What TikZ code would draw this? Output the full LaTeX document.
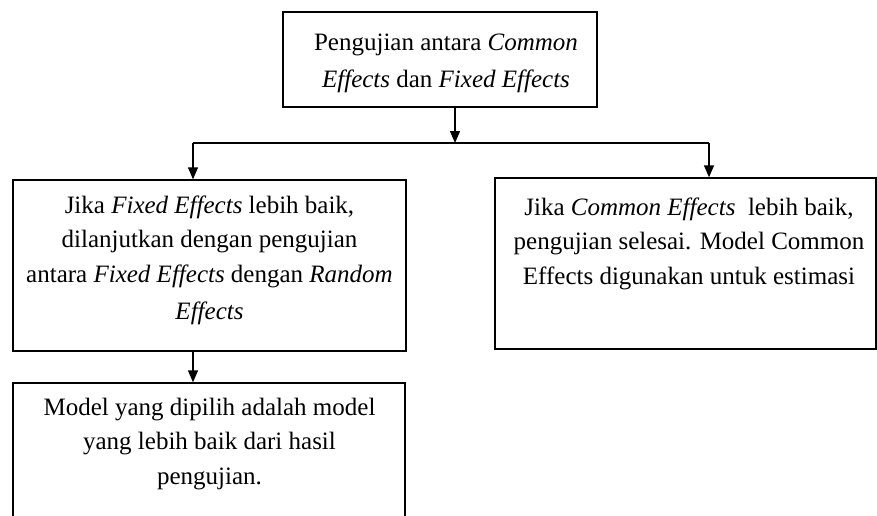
\documentclass[tikz,border=0pt]{standalone}
\usepackage{fontspec}
\setmainfont{Liberation Serif}
\usetikzlibrary{arrows.meta}
\newcommand{\firstln}{\rule{0pt}{18pt}}
\tikzset{
  box/.style={draw, line width=1.4pt, rectangle, inner sep=0pt},
  txt/.style={align=center, inner sep=0pt, anchor=north, font=\fontsize{25}{34.5}\selectfont},
  arr/.style={line width=1.4pt, -{Triangle[width=10pt,length=12pt]}},
  ln/.style={line width=1.4pt}
}
\begin{document}
\begin{tikzpicture}[x=1pt,y=-1pt]
\useasboundingbox (0,0) rectangle (877,515);
% boxes
\node[box, minimum width=314pt, minimum height=95pt] (top) at (440,59.5) {};
\node[box, minimum width=393pt, minimum height=171pt] (left) at (209.5,265.5) {};
\node[box, minimum width=381pt, minimum height=171pt] (right) at (685.5,263.5) {};
\node[box, minimum width=392pt, minimum height=180pt] (bottom) at (209,473) {};
% texts
\node[txt, font=\fontsize{25}{37}\selectfont] (ttop) at (446,32) {\firstln Pengujian antara \textit{Common}\\\textit{Effects} dan \textit{Fixed Effects}};
\node[txt] (tleft) at (209.5,195) {\firstln Jika \textit{Fixed Effects} lebih baik,\\dilanjutkan dengan pengujian\\antara \textit{Fixed Effects} dengan \textit{Random}\\[3pt]\textit{Effects}};
\node[txt] (tright) at (689,197) {\firstln Jika \textit{Common Effects}\ \ lebih baik,\\pengujian selesai. Model Common\\Effects digunakan untuk estimasi};
\node[txt] (tbottom) at (209.5,397) {\firstln Model yang dipilih adalah model\\yang lebih baik dari hasil\\pengujian.};
% connectors
\coordinate (j) at (455,143);
\coordinate (jl) at (193,143);
\coordinate (jr) at (709,143);
\draw[arr] (j |- top.south) -- (j);
\draw[ln] (jl) -- (jr);
\draw[arr] (jl) -- (jl |- left.north);
\draw[arr] (jr) -- (jr |- right.north);
\draw[arr] (jl |- left.south) -- (jl |- bottom.north);
\end{tikzpicture}
\end{document}
